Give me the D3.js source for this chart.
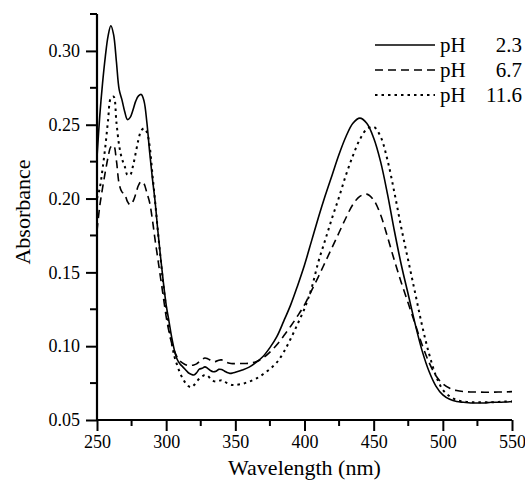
<!DOCTYPE html>
<html>
<head>
<meta charset="utf-8">
<script src="https://cdn.jsdelivr.net/npm/d3@7.9.0/dist/d3.min.js"></script>
<style>
  body { margin: 0; background: #fff; }
</style>
</head>
<body>
<div id="vis"></div>
<script>
const width = 525, height = 481;
const serif = '"Liberation Serif", "Times New Roman", Times, serif';

// wavelength grid (nm)
const wavelength = [
  250,252,254,256,258,260,262,264,266,268,270,272,274,276,278,280,282,284,286,288,290,292,294,296,298,
  300,302,304,306,308,310,312,314,316,318,320,322,324,326,328,330,332,334,336,338,340,342,344,346,348,
  350,355,360,365,370,375,380,385,390,395,400,405,410,415,420,425,430,435,440,445,450,455,460,465,470,
  475,480,485,490,495,500,505,510,515,520,525,530,535,540,545,550
];

const absPH23 = [
  0.228,0.256,0.278,0.296,0.310,0.317,0.311,0.293,0.274,0.267,0.259,0.2535,0.255,0.260,0.266,0.2695,0.2705,0.266,0.252,0.232,0.214,0.198,0.178,0.160,0.143,
  0.128,0.117,0.106,0.097,0.091,0.088,0.086,0.084,0.082,0.081,0.0805,0.082,0.0845,0.085,0.086,0.085,0.0835,0.0827,0.083,0.0843,0.0842,0.0832,0.0822,0.0816,0.0818,
  0.0823,0.0838,0.0858,0.089,0.093,0.099,0.1065,0.117,0.128,0.141,0.155,0.171,0.187,0.202,0.216,0.230,0.242,0.251,0.2545,0.251,0.241,0.225,0.203,0.178,0.155,
  0.135,0.115,0.097,0.083,0.073,0.067,0.064,0.0625,0.062,0.0615,0.0615,0.0615,0.062,0.062,0.0622,0.0625
];

const absPH67 = [
  0.178,0.195,0.207,0.218,0.228,0.235,0.236,0.226,0.210,0.2045,0.203,0.198,0.1957,0.198,0.203,0.209,0.2115,0.210,0.204,0.1975,0.186,0.172,0.159,0.146,0.133,
  0.120,0.110,0.102,0.0965,0.0925,0.090,0.0885,0.0875,0.087,0.087,0.0873,0.088,0.0895,0.091,0.092,0.0915,0.0905,0.0895,0.0897,0.0905,0.0907,0.090,0.089,0.0884,0.0882,
  0.0882,0.0883,0.0884,0.0895,0.092,0.096,0.101,0.107,0.1135,0.1205,0.128,0.1375,0.147,0.157,0.167,0.177,0.187,0.196,0.2015,0.203,0.199,0.189,0.174,0.158,0.143,
  0.129,0.115,0.101,0.089,0.080,0.0745,0.0715,0.070,0.0693,0.069,0.069,0.0688,0.0688,0.069,0.069,0.0692
];

const absPH116 = [
  0.200,0.207,0.220,0.235,0.253,0.268,0.269,0.252,0.236,0.227,0.222,0.216,0.216,0.222,0.231,0.240,0.246,0.2475,0.245,0.236,0.217,0.198,0.178,0.159,0.141,
  0.126,0.113,0.102,0.093,0.087,0.082,0.078,0.075,0.073,0.0722,0.0735,0.076,0.078,0.0795,0.0805,0.080,0.078,0.0765,0.076,0.0765,0.077,0.0762,0.075,0.0742,0.0737,
  0.0737,0.0745,0.076,0.078,0.081,0.0845,0.089,0.096,0.105,0.115,0.1255,0.139,0.157,0.172,0.187,0.201,0.216,0.229,0.240,0.247,0.2485,0.242,0.226,0.204,0.180,
  0.158,0.136,0.114,0.095,0.080,0.0705,0.066,0.0635,0.0625,0.062,0.062,0.062,0.062,0.0622,0.0625,0.0625
];

const seriesLabels = ["2.3", "6.7", "11.6"];
const seriesDash = [null, "8,5", "2.5,4"];

const xTicks = [250, 300, 350, 400, 450, 500, 550];
const xMinor = [275, 325, 375, 425, 475, 525];
const yTicks = [0.05, 0.10, 0.15, 0.20, 0.25, 0.30];
const yMinor = [0.075, 0.125, 0.175, 0.225, 0.275, 0.325];

const x = d3.scaleLinear().domain([250, 550]).range([97, 512]);
const y = d3.scaleLinear().domain([0.05, 0.325]).range([420, 14]);

const svg = d3.select("#vis").append("svg")
    .attr("width", width)
    .attr("height", height)
    .attr("viewBox", `0 0 ${width} ${height}`);

svg.append("rect").attr("width", width).attr("height", height).attr("fill", "#fff");

// curves
const line = d3.line()
    .x(d => x(d[0]))
    .y(d => y(d[1]))
    .curve(d3.curveCatmullRom.alpha(0.5));

[absPH23, absPH67, absPH116].forEach((vals, i) => {
  svg.append("path")
    .datum(wavelength.map((w, j) => [w, vals[j]]))
    .attr("d", line)
    .attr("fill", "none")
    .attr("stroke", "#000")
    .attr("stroke-width", i == 2 ? 2 : 1.6)
    .attr("stroke-dasharray", seriesDash[i]);
});

// axes
const xAxis = svg.append("g")
    .attr("transform", `translate(0,${y(0.05)})`)
    .call(d3.axisBottom(x).tickValues(xTicks).tickSize(11).tickPadding(4).tickFormat(d3.format("d")));
svg.append("g")
    .selectAll("line")
    .data(xMinor)
    .join("line")
    .attr("x1", d => x(d)).attr("x2", d => x(d))
    .attr("y1", y(0.05)).attr("y2", y(0.05) + 6)
    .attr("stroke", "#000").attr("stroke-width", 2);

const yAxis = svg.append("g")
    .attr("transform", `translate(${x(250)},0)`)
    .call(d3.axisLeft(y).tickValues(yTicks).tickSize(11).tickPadding(6).tickFormat(d3.format(".2f")));
svg.append("g")
    .selectAll("line")
    .data(yMinor)
    .join("line")
    .attr("x1", x(250) - 7).attr("x2", x(250))
    .attr("y1", d => y(d)).attr("y2", d => y(d))
    .attr("stroke", "#000").attr("stroke-width", 2);

[xAxis, yAxis].forEach(g => {
  g.attr("font-family", serif).attr("font-size", 18);
  g.select(".domain").attr("stroke-width", 2.2);
  g.selectAll(".tick line").attr("stroke-width", 2);
  g.selectAll(".tick text")
    .style("font-family", serif)
    .style("font-size", "18px");
});
yAxis.select(".domain").attr("d", `M0,${y(0.05)}V${y(0.325)}`);
xAxis.select(".domain").attr("d", `M${x(250)},0H${x(550)}`);

// axis titles
svg.append("text")
    .attr("x", (x(250) + x(550)) / 2)
    .attr("y", 475)
    .attr("text-anchor", "middle")
    .style("font-family", serif)
    .style("font-size", "22px")
    .text("Wavelength (nm)");

svg.append("text")
    .attr("transform", `translate(30,${212}) rotate(-90)`)
    .attr("text-anchor", "middle")
    .style("font-family", serif)
    .style("font-size", "22px")
    .text("Absorbance");

// legend
const legend = svg.append("g");
seriesLabels.forEach((lab, i) => {
  const ly = 45 + i * 25;
  legend.append("line")
    .attr("x1", 375).attr("x2", 435)
    .attr("y1", ly).attr("y2", ly)
    .attr("stroke", "#000")
    .attr("stroke-width", i == 2 ? 2 : 1.6)
    .attr("stroke-dasharray", seriesDash[i]);
  legend.append("text")
    .attr("x", 440).attr("y", ly + 7)
    .style("font-family", serif)
    .style("font-size", "21px")
    .text("pH");
  legend.append("text")
    .attr("x", 522).attr("y", ly + 7)
    .attr("text-anchor", "end")
    .style("font-family", serif)
    .style("font-size", "21px")
    .text(lab);
});
</script>
</body>
</html>
